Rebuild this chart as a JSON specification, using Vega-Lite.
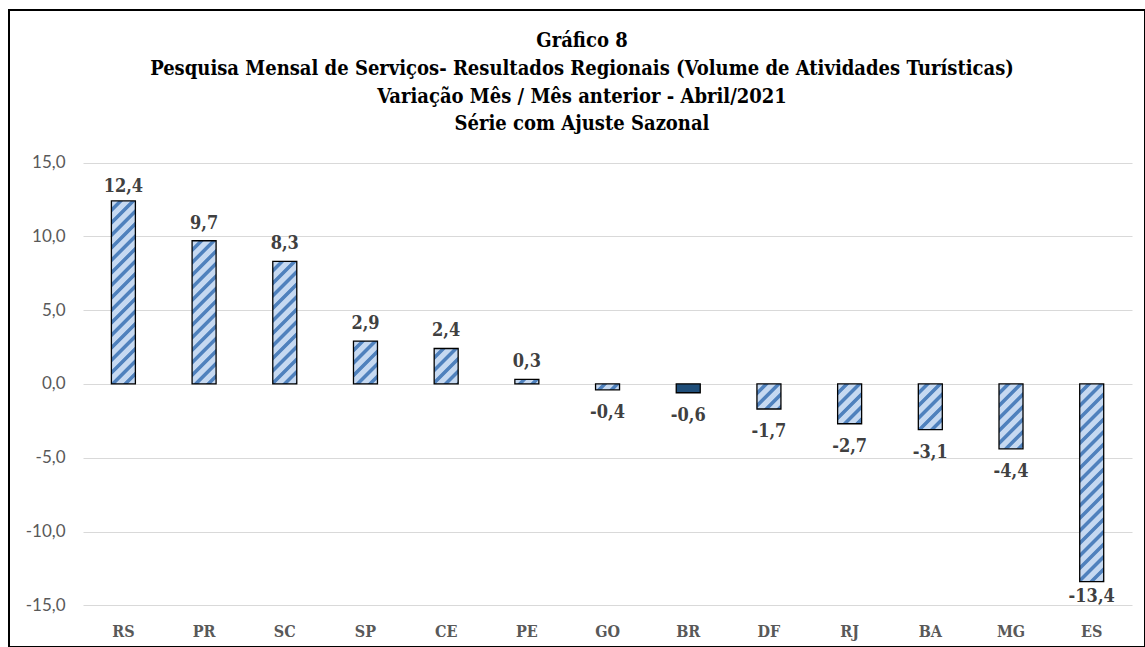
{
  "$schema": "https://vega.github.io/schema/vega-lite/v6.json",
  "width": 1136,
  "height": 637,
  "padding": {"left": 9, "top": 10, "right": 0, "bottom": 0},
  "autosize": {"type": "none"},
  "background": "white",
  "title": {
    "text": ["Gráfico 8", "Pesquisa Mensal de Serviços- Resultados Regionais (Volume de Atividades Turísticas)", "Variação Mês / Mês anterior - Abril/2021", "Série com Ajuste Sazonal"],
    "font": "DejaVu Serif Condensed, DejaVu Serif, serif",
    "fontWeight": "bold",
    "fontSize": 20,
    "lineHeight": 27.7,
    "color": "#000000",
    "anchor": "middle",
    "frame": "bounds",
    "offset": -124.5,
    "dx": 5
  },
  "data": {
    "values": [
      {"uf": "RS", "v": 12.4},
      {"uf": "PR", "v": 9.7},
      {"uf": "SC", "v": 8.3},
      {"uf": "SP", "v": 2.9},
      {"uf": "CE", "v": 2.4},
      {"uf": "PE", "v": 0.3},
      {"uf": "GO", "v": -0.4},
      {"uf": "BR", "v": -0.6},
      {"uf": "DF", "v": -1.7},
      {"uf": "RJ", "v": -2.7},
      {"uf": "BA", "v": -3.1},
      {"uf": "MG", "v": -4.4},
      {"uf": "ES", "v": -13.4}
    ]
  },
  "encoding": {
    "x": {
      "field": "uf",
      "type": "nominal",
      "sort": null,
      "scale": {"paddingInner": 0.7026, "paddingOuter": 0.8904, "align": 0.7126},
      "axis": {
        "orient": "bottom",
        "offset": -42,
        "title": null,
        "domain": false,
        "ticks": false,
        "grid": false,
        "labelAngle": 0,
        "labelPadding": 18,
        "labelFont": "DejaVu Serif Condensed, DejaVu Serif, serif",
        "labelFontWeight": "bold",
        "labelFontSize": 16,
        "labelColor": "#595959"
      }
    },
    "y": {
      "field": "v",
      "type": "quantitative",
      "scale": {"domain": [-17.825, 25.332], "nice": false, "zero": false},
      "axis": {
        "orient": "left",
        "offset": -74,
        "title": null,
        "domain": false,
        "grid": false,
        "ticks": true,
        "tickSize": -1049,
        "tickColor": "#d9d9d9",
        "tickWidth": 1,
        "labelPadding": 1067,
        "values": [-15, -10, -5, 0, 5, 10, 15],
        "format": ".1f",
        "labelFont": "Lato",
        "labelFontSize": 17,
        "labelColor": "#595959"
      }
    }
  },
  "layer": [
    {
      "mark": {
        "type": "bar",
        "stroke": "#000000",
        "strokeWidth": 1.3,
        "fill": {"expr": "datum.uf === 'BR' ? '#1f4e79' : {gradient: 'linear', x1: 0, y1: 0, x2: bandwidth('x')*250/(bandwidth('x')*bandwidth('x')+pow(scale('y',datum.v)-scale('y',0),2)), y2: abs(scale('y',datum.v)-scale('y',0))*250/(bandwidth('x')*bandwidth('x')+pow(scale('y',datum.v)-scale('y',0),2)), stops: [{offset:0,color:'#c6d9f1'},{offset:0.025,color:'#c6d9f1'},{offset:0.03,color:'#4f81bd'},{offset:0.045,color:'#4f81bd'},{offset:0.05,color:'#c6d9f1'},{offset:0.075,color:'#c6d9f1'},{offset:0.08,color:'#4f81bd'},{offset:0.095,color:'#4f81bd'},{offset:0.1,color:'#c6d9f1'},{offset:0.125,color:'#c6d9f1'},{offset:0.13,color:'#4f81bd'},{offset:0.145,color:'#4f81bd'},{offset:0.15,color:'#c6d9f1'},{offset:0.175,color:'#c6d9f1'},{offset:0.18,color:'#4f81bd'},{offset:0.195,color:'#4f81bd'},{offset:0.2,color:'#c6d9f1'},{offset:0.225,color:'#c6d9f1'},{offset:0.23,color:'#4f81bd'},{offset:0.245,color:'#4f81bd'},{offset:0.25,color:'#c6d9f1'},{offset:0.275,color:'#c6d9f1'},{offset:0.28,color:'#4f81bd'},{offset:0.295,color:'#4f81bd'},{offset:0.3,color:'#c6d9f1'},{offset:0.325,color:'#c6d9f1'},{offset:0.33,color:'#4f81bd'},{offset:0.345,color:'#4f81bd'},{offset:0.35,color:'#c6d9f1'},{offset:0.375,color:'#c6d9f1'},{offset:0.38,color:'#4f81bd'},{offset:0.395,color:'#4f81bd'},{offset:0.4,color:'#c6d9f1'},{offset:0.425,color:'#c6d9f1'},{offset:0.43,color:'#4f81bd'},{offset:0.445,color:'#4f81bd'},{offset:0.45,color:'#c6d9f1'},{offset:0.475,color:'#c6d9f1'},{offset:0.48,color:'#4f81bd'},{offset:0.495,color:'#4f81bd'},{offset:0.5,color:'#c6d9f1'},{offset:0.525,color:'#c6d9f1'},{offset:0.53,color:'#4f81bd'},{offset:0.545,color:'#4f81bd'},{offset:0.55,color:'#c6d9f1'},{offset:0.575,color:'#c6d9f1'},{offset:0.58,color:'#4f81bd'},{offset:0.595,color:'#4f81bd'},{offset:0.6,color:'#c6d9f1'},{offset:0.625,color:'#c6d9f1'},{offset:0.63,color:'#4f81bd'},{offset:0.645,color:'#4f81bd'},{offset:0.65,color:'#c6d9f1'},{offset:0.675,color:'#c6d9f1'},{offset:0.68,color:'#4f81bd'},{offset:0.695,color:'#4f81bd'},{offset:0.7,color:'#c6d9f1'},{offset:0.725,color:'#c6d9f1'},{offset:0.73,color:'#4f81bd'},{offset:0.745,color:'#4f81bd'},{offset:0.75,color:'#c6d9f1'},{offset:0.775,color:'#c6d9f1'},{offset:0.78,color:'#4f81bd'},{offset:0.795,color:'#4f81bd'},{offset:0.8,color:'#c6d9f1'},{offset:0.825,color:'#c6d9f1'},{offset:0.83,color:'#4f81bd'},{offset:0.845,color:'#4f81bd'},{offset:0.85,color:'#c6d9f1'},{offset:0.875,color:'#c6d9f1'},{offset:0.88,color:'#4f81bd'},{offset:0.895,color:'#4f81bd'},{offset:0.9,color:'#c6d9f1'},{offset:0.925,color:'#c6d9f1'},{offset:0.93,color:'#4f81bd'},{offset:0.945,color:'#4f81bd'},{offset:0.95,color:'#c6d9f1'},{offset:0.975,color:'#c6d9f1'},{offset:0.98,color:'#4f81bd'},{offset:0.995,color:'#4f81bd'},{offset:1,color:'#c6d9f1'}]}"}
      }
    },
    {
      "mark": {
        "type": "text",
        "font": "DejaVu Serif Condensed, DejaVu Serif, serif",
        "fontWeight": "bold",
        "fontSize": 18,
        "color": "#404040",
        "baseline": "middle",
        "align": "center",
        "dy": {"expr": "datum.uf === 'RS' ? -13.4 : datum.uf === 'ES' ? 15.8 : datum.v >= 0 ? -17 : 23.5"}
      },
      "encoding": {
        "text": {"field": "v", "type": "quantitative", "format": ".1f"}
      }
    }
  ],
  "config": {
    "locale": {
      "number": {"decimal": ",", "thousands": ".", "grouping": [3], "currency": ["R$", ""], "minus": "-"}
    },
    "view": {"stroke": "#000000", "strokeWidth": 2}
  }
}
